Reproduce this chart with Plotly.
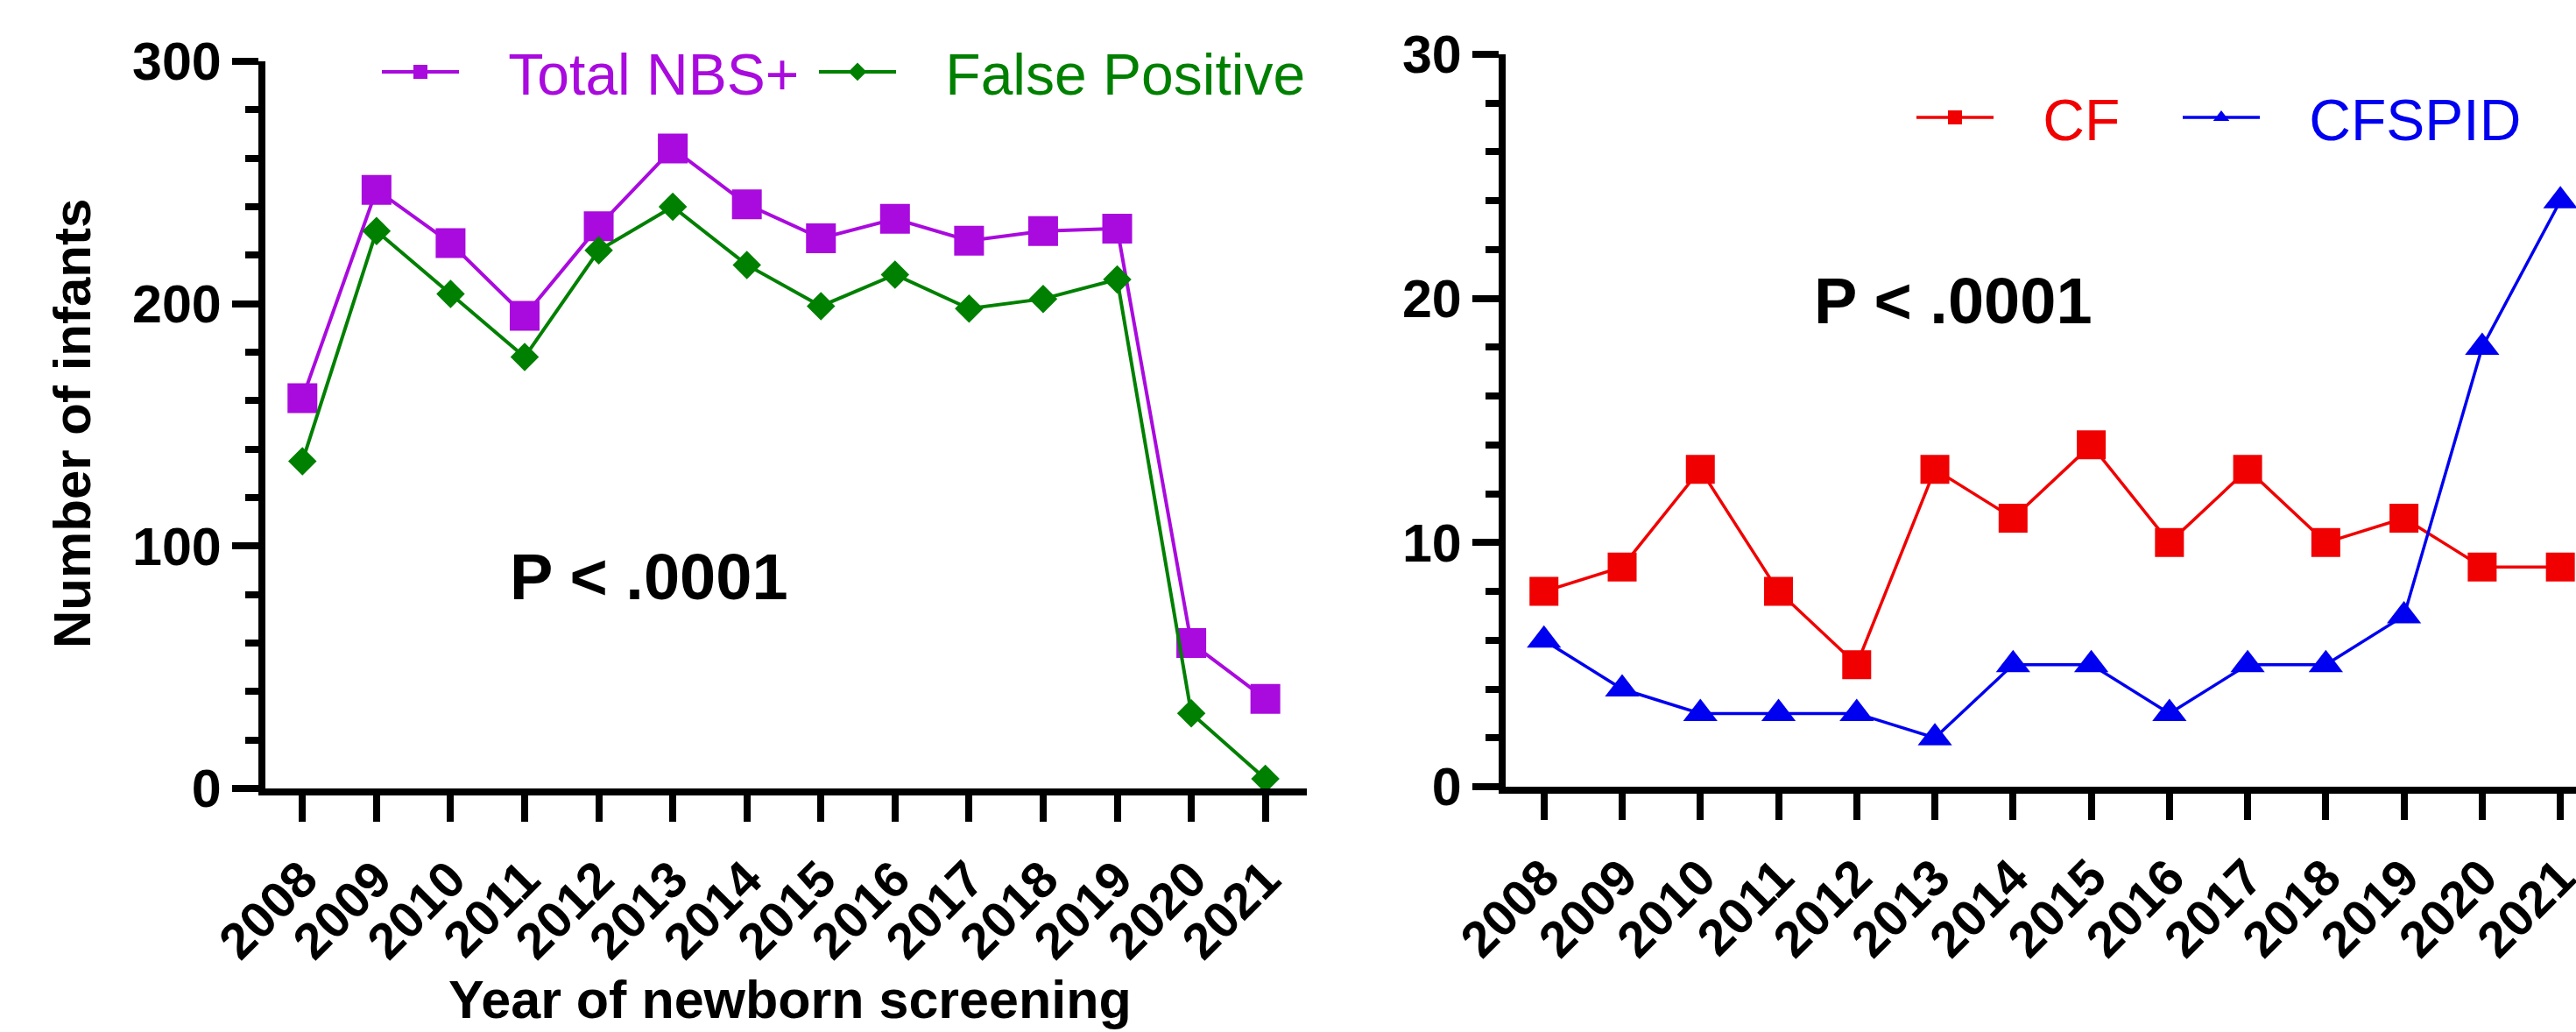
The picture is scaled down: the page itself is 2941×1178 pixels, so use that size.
import plotly.graph_objects as go

# ---- data ----
years = [2008, 2009, 2010, 2011, 2012, 2013, 2014, 2015, 2016, 2017, 2018, 2019, 2020, 2021]
year_labels = [str(y) for y in years]
total_nbs = [161, 247, 225, 195, 232, 264, 241, 227, 235, 226, 230, 231, 60, 37]
false_pos = [135, 230, 204, 178, 222, 240, 216, 199, 212, 198, 202, 210, 31, 4]
cf = [8, 9, 13, 8, 5, 13, 11, 14, 10, 13, 10, 11, 9, 9]
cfspid = [6, 4, 3, 3, 3, 2, 5, 5, 3, 5, 5, 7, 18, 24]

W, H = 2941, 1178
FONT = "Arial, Liberation Sans, sans-serif"
PURPLE = "#A90ADE"
GREEN = "#008000"
RED = "#F00000"
BLUE = "#0000F0"
GAP = "\u2002\u00a0"  # extra space between legend key and label

fig = go.Figure()

fig.add_trace(go.Scatter(
    x=years, y=total_nbs, mode="lines+markers", xaxis="x", yaxis="y",
    name=f"<span style='color:{PURPLE}'>{GAP}Total NBS+</span>", legend="legend",
    line=dict(color=PURPLE, width=4),
    marker=dict(symbol="square", size=34, color=PURPLE), cliponaxis=False))
fig.add_trace(go.Scatter(
    x=years, y=false_pos, mode="lines+markers", xaxis="x", yaxis="y",
    name=f"<span style='color:{GREEN}'>{GAP}False Positive</span>", legend="legend3",
    line=dict(color=GREEN, width=4),
    marker=dict(symbol="diamond", size=25, color=GREEN), cliponaxis=False))
fig.add_trace(go.Scatter(
    x=years, y=cf, mode="lines+markers", xaxis="x2", yaxis="y2",
    name=f"<span style='color:{RED}'>{GAP}CF</span>", legend="legend2",
    line=dict(color=RED, width=3.5),
    marker=dict(symbol="square", size=33, color=RED), cliponaxis=False))
fig.add_trace(go.Scatter(
    x=years, y=cfspid, mode="lines+markers", xaxis="x2", yaxis="y2",
    name=f"<span style='color:{BLUE}'>{GAP}CFSPID</span>", legend="legend4",
    line=dict(color=BLUE, width=3.5),
    marker=dict(symbol="triangle-up", size=34, color=BLUE), cliponaxis=False))

axis_common = dict(showline=True, linecolor="black", linewidth=8, showgrid=False,
                   zeroline=False, ticks="outside", tickcolor="black", tickwidth=8,
                   ticklen=30, automargin=False)

xcommon = dict(axis_common, tickvals=years, ticktext=year_labels, tickangle=-45,
               ticklabelstandoff=8, ticklabeloverflow="allow",
               tickfont=dict(family=FONT, size=58, color="black", weight="bold"))
ycommon = dict(axis_common, tickfont=dict(family=FONT, size=61, color="black", weight="bold"))


def legend_box(x_px, y_px):
    return dict(x=x_px / W, y=1 - y_px / H, xanchor="left", yanchor="middle",
                orientation="h", itemwidth=88, font=dict(family=FONT, size=66),
                bgcolor="rgba(0,0,0,0)", borderwidth=0)


fig.update_layout(
    width=W, height=H,
    margin=dict(l=0, r=0, t=0, b=0, autoexpand=False),
    paper_bgcolor="white", plot_bgcolor="white",
    xaxis=dict(xcommon, domain=[303 / W, 1492 / W], range=[2007.5, 2021.56], anchor="y"),
    yaxis=dict(ycommon, domain=[278 / H, 1 - 70 / H], range=[0, 300], tickvals=[0, 100, 200, 300],
               minor=dict(dtick=20, ticks="outside", ticklen=15, tickwidth=8, tickcolor="black"),
               anchor="x"),
    xaxis2=dict(xcommon, domain=[1719 / W, 1.0], range=[2007.51, 2021.2], anchor="y2"),
    yaxis2=dict(ycommon, domain=[280 / H, 1 - 62 / H], range=[0, 30], tickvals=[0, 10, 20, 30],
                minor=dict(dtick=2, ticks="outside", ticklen=15, tickwidth=8, tickcolor="black"),
                anchor="x2"),
    legend=legend_box(431, 82),
    legend3=legend_box(930, 82),
    legend2=legend_box(2183, 134),
    legend4=legend_box(2487, 134),
    showlegend=True,
)

# text annotations
ann = dict(xref="paper", yref="paper", showarrow=False, xanchor="center", yanchor="middle")
fig.add_annotation(ann, x=741 / W, y=1 - 658 / H, text="<b>P < .0001</b>",
                   font=dict(family=FONT, size=74, color="black"))
fig.add_annotation(ann, x=2230 / W, y=1 - 343 / H, text="<b>P < .0001</b>",
                   font=dict(family=FONT, size=74, color="black"))
fig.add_annotation(ann, x=82 / W, y=1 - 484 / H, text="<b>Number of infants</b>",
                   textangle=-90, font=dict(family=FONT, size=60, color="black"))
fig.add_annotation(ann, x=902 / W, y=1 - 1141 / H, text="<b>Year of newborn screening</b>",
                   font=dict(family=FONT, size=61, color="black"))

fig.write_html("out.html", config={"displayModeBar": False},
               post_script="document.body.style.margin='0px';")
